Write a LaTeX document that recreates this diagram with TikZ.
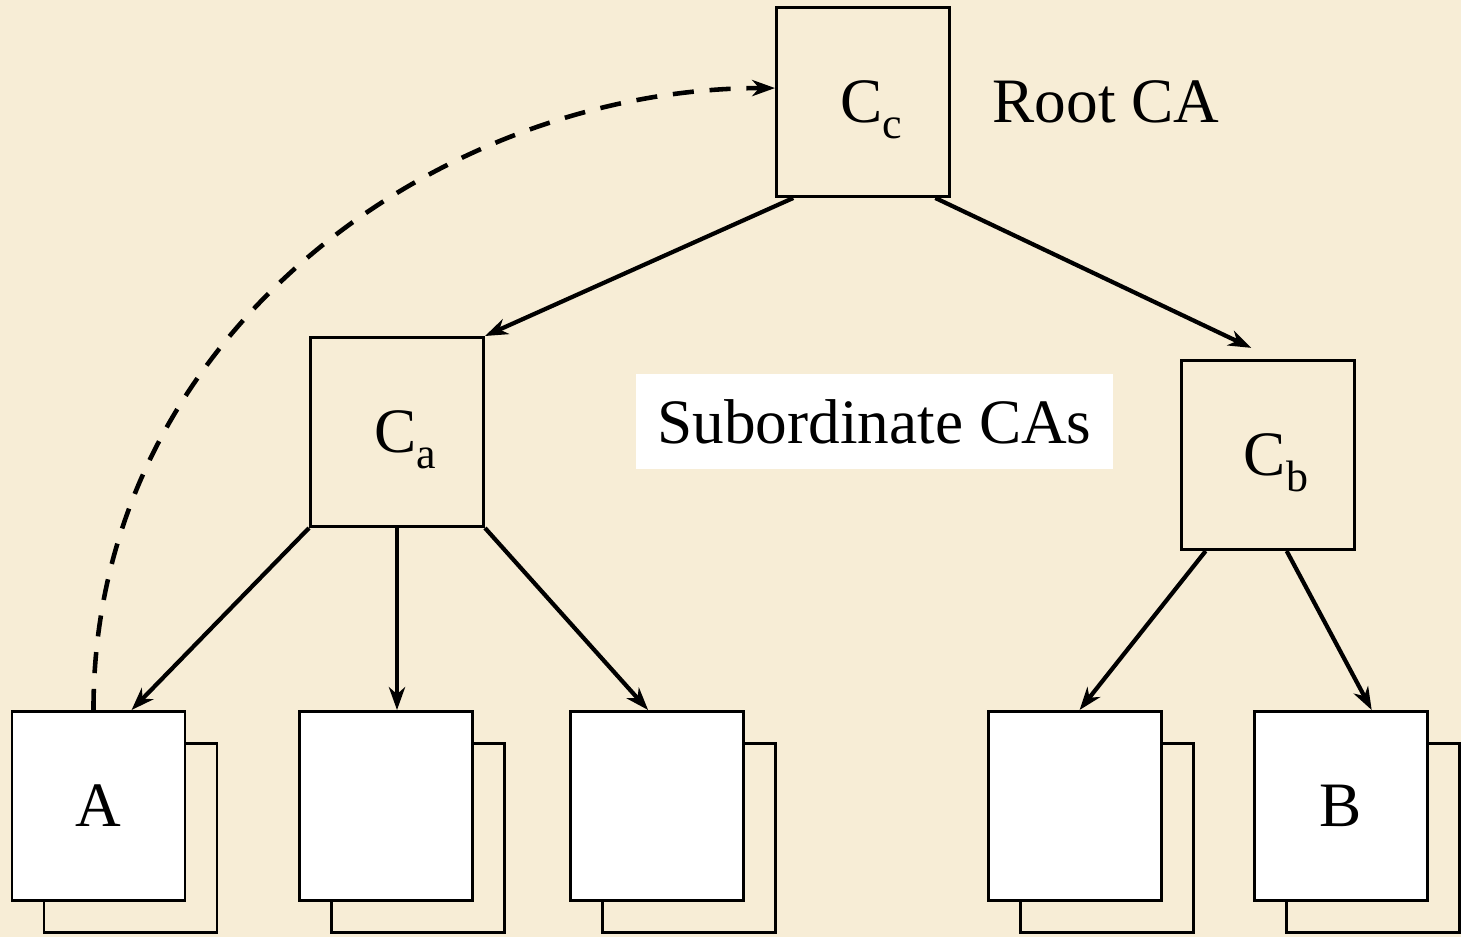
\documentclass[tikz,border=0pt]{standalone}
\usepackage{fontspec}
\setmainfont{Liberation Serif}
\usepackage[]{xcolor}
\usetikzlibrary{positioning}
\usetikzlibrary{arrows.meta}
\definecolor{paper}{RGB}{247,237,214}
\newcommand{\caname}[1]{\hspace{0.16cm}C\raisebox{-4.3pt}{\fontsize{12.5}{12.5}\selectfont #1}}
\tikzset{cabox/.style={draw,line width=0.85pt,minimum width=1.73cm,minimum height=1.89cm,inner sep=0pt,text depth=0pt,font=\fontsize{18}{18}\selectfont}}
\tikzset{certbox/.style={cabox,fill=white}}
\tikzset{certback/.style={cabox,fill=paper}}
\tikzset{link/.style={line width=1.2pt,-{Stealth[length=6.5pt,width=4.6pt,inset=2pt]}}}

\begin{document}
\begin{tikzpicture}
            \fill[paper] (0,0) rectangle (14.61,9.37);
            \useasboundingbox (0,0) rectangle (14.61,9.37);
            \node[cabox] (cc) at (8.63,8.35) {\caname{c}};
            \node[font=\fontsize{18}{18}\selectfont,anchor=base west,inner sep=0pt] (root) at (9.92,8.15) {Root CA};
            \node[cabox] (ca) at (3.97,5.05) {\caname{a}};
            \node[cabox] (cb) at (12.68,4.82) {\caname{b}};
            \node[fill=white,minimum width=4.77cm,minimum height=0.95cm,inner sep=0pt,font=\fontsize{18}{18}\selectfont] (sub) at (8.745,5.155) {Subordinate CAs};
            % certificates, each with a second sheet behind it
            \foreach \name/\x/\txt in {a/0.985/A,l2/3.86/,l3/6.565/,l4/10.745/,b/13.405/B}{
                \node[certback] (\name back) at (\x+0.32,0.99) {};
                \node[certbox] (\name) at (\x,1.31) {\txt};
            }
            \draw[link] (cc.-126) -- (ca.north east);
            \draw[link,shorten >=0.26cm] (cc.-53) -- (cb.86);
            \draw[link] (ca.south west) -- (a.71);
            \draw[link] (ca.south) -- (ca.south |- l2.north);
            \draw[link] (ca.south east) -- (l3.95);
            \draw[link] (cb.-123) -- (l4.87);
            \draw[link] (cb.-79) -- (b.72);
            \draw[link,line width=1.3pt,dash pattern=on 6pt off 4.5pt] (a.93) .. controls +(0,3.8) and +(-3.3,0) .. (cc.171);
        \end{tikzpicture}
\end{document}
